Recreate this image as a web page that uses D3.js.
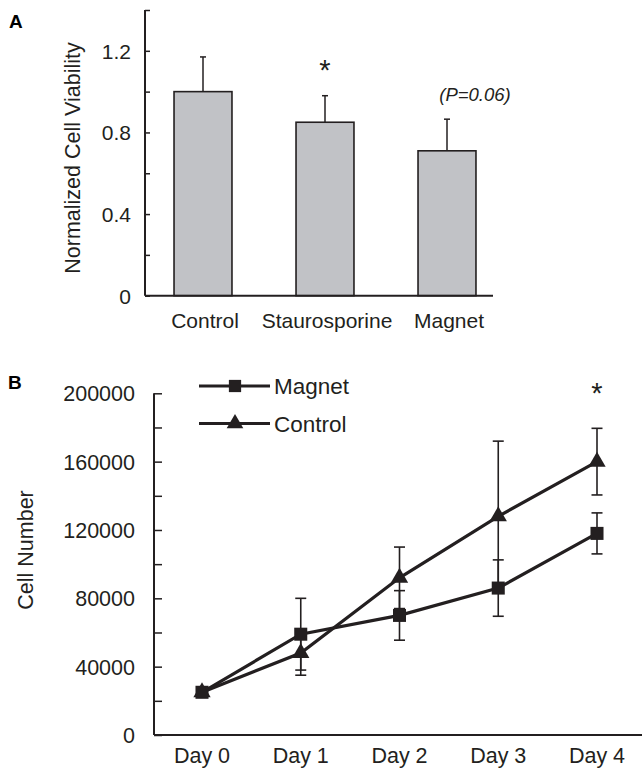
<!DOCTYPE html>
<html>
<head>
<meta charset="utf-8">
<script src="https://cdn.jsdelivr.net/npm/d3@7"></script>
<style>
  body { margin: 0; background: #fff; }
  svg { font-family: "Liberation Sans", Arial, sans-serif; }
</style>
</head>
<body>
<svg id="fig" width="642" height="768"></svg>
<script>
// panel A data
const groups = ['Control', 'Staurosporine', 'Magnet'];
const viability = [1.0, 0.85, 0.71];
const viabilityErr = [0.17, 0.13, 0.155];
const viabilityTicks = [0, 0.4, 0.8, 1.2];

// panel B data
const days = ['Day 0', 'Day 1', 'Day 2', 'Day 3', 'Day 4'];
const magnetCells = [25000, 59000, 70000, 86000, 118000];
const magnetErr = [0, 21000, 14500, 16500, 12000];
const controlCells = [25000, 48000, 92000, 128000, 160000];
const controlErr = [0, 13000, 18000, 44000, 19500];
const cellTicks = [0, 40000, 80000, 120000, 160000, 200000];

const ink = '#231f20';
const svg = d3.select('#fig');

// ---------- A ----------
const yA = d3.scaleLinear().domain([0, 1.4]).range([295.7, 10]);
const xA = d3.scaleBand().domain(groups).range([142, 508]).paddingInner(0.525).paddingOuter(0.2625);

const gA = svg.append('g');

gA.append('g')
    .attr('transform', 'translate(145,0)')
    .call(d3.axisRight(yA).tickValues(d3.range(0, 1.41, 0.2)).tickSize(5).tickFormat(''))
    .call(g => g.select('.domain').remove())
    .call(g => g.selectAll('line').attr('stroke', ink).attr('stroke-width', 1.5));

gA.append('line')
    .attr('x1', 145).attr('x2', 145)
    .attr('y1', yA(1.4)).attr('y2', yA(0))
    .attr('stroke', ink).attr('stroke-width', 2);

gA.selectAll('.ylab')
    .data(viabilityTicks)
    .enter().append('text')
    .attr('x', 131)
    .attr('y', d => yA(d) + 8)
    .attr('text-anchor', 'end')
    .attr('font-size', 21)
    .attr('fill', ink)
    .text(d => d === 0 ? '0' : d.toFixed(1));

const barsA = gA.selectAll('.bar')
    .data(groups)
    .enter().append('g');

barsA.append('line')
    .attr('x1', d => xA(d) + xA.bandwidth() / 2)
    .attr('x2', d => xA(d) + xA.bandwidth() / 2)
    .attr('y1', (d, i) => yA(viability[i]))
    .attr('y2', (d, i) => yA(viability[i] + viabilityErr[i]))
    .attr('stroke', ink).attr('stroke-width', 1.5);

barsA.append('line')
    .attr('x1', d => xA(d) + xA.bandwidth() / 2 - 3)
    .attr('x2', d => xA(d) + xA.bandwidth() / 2 + 3)
    .attr('y1', (d, i) => yA(viability[i] + viabilityErr[i]))
    .attr('y2', (d, i) => yA(viability[i] + viabilityErr[i]))
    .attr('stroke', ink).attr('stroke-width', 1.5);

barsA.append('rect')
    .attr('x', d => xA(d))
    .attr('y', (d, i) => yA(viability[i]))
    .attr('width', xA.bandwidth())
    .attr('height', (d, i) => yA(0) - yA(viability[i]))
    .attr('fill', '#c1c2c6')
    .attr('stroke', ink)
    .attr('stroke-width', 1.6);

gA.append('line')
    .attr('x1', 145).attr('x2', 493)
    .attr('y1', yA(0)).attr('y2', yA(0))
    .attr('stroke', ink).attr('stroke-width', 2);

barsA.append('text')
    .attr('x', d => xA(d) + xA.bandwidth() / 2 + 2)
    .attr('y', 328)
    .attr('text-anchor', 'middle')
    .attr('font-size', 21)
    .attr('fill', ink)
    .text(d => d);

gA.append('text')
    .attr('x', xA('Staurosporine') + xA.bandwidth() / 2)
    .attr('y', 80)
    .attr('text-anchor', 'middle')
    .attr('font-size', 29)
    .attr('fill', ink)
    .text('*');

gA.append('text')
    .attr('x', 475)
    .attr('y', 101)
    .attr('text-anchor', 'middle')
    .attr('font-size', 18.5)
    .attr('font-style', 'italic')
    .attr('fill', ink)
    .text('(P=0.06)');

gA.append('text')
    .attr('transform', 'translate(80,158) rotate(-90)')
    .attr('text-anchor', 'middle')
    .attr('font-size', 21.5)
    .attr('fill', ink)
    .text('Normalized Cell Viability');

svg.append('text')
    .attr('x', 9).attr('y', 28)
    .attr('font-size', 19).attr('font-weight', 'bold')
    .text('A');

// ---------- B ----------
const yB = d3.scaleLinear().domain([0, 200000]).range([735, 393.3]);
const xB = d3.scalePoint().domain(days).range([202, 597]);

const gB = svg.append('g');

gB.append('g')
    .attr('transform', 'translate(154,0)')
    .call(d3.axisRight(yB).tickValues(d3.range(0, 200001, 20000)).tickSize(8).tickFormat(''))
    .call(g => g.select('.domain').remove())
    .call(g => g.selectAll('line').attr('stroke', ink).attr('stroke-width', 1.5));

gB.append('line')
    .attr('x1', 154).attr('x2', 154)
    .attr('y1', yB(200000)).attr('y2', yB(0))
    .attr('stroke', ink).attr('stroke-width', 2);

gB.append('line')
    .attr('x1', 154).attr('x2', 642)
    .attr('y1', yB(0)).attr('y2', yB(0))
    .attr('stroke', ink).attr('stroke-width', 2);

gB.selectAll('.ylab')
    .data(cellTicks)
    .enter().append('text')
    .attr('x', 135)
    .attr('y', d => yB(d) + 8)
    .attr('text-anchor', 'end')
    .attr('font-size', 21.5)
    .attr('fill', ink)
    .text(d => d);

gB.selectAll('.xlab')
    .data(days)
    .enter().append('text')
    .attr('x', d => xB(d))
    .attr('y', 763)
    .attr('text-anchor', 'middle')
    .attr('font-size', 21.5)
    .attr('fill', ink)
    .text(d => d);

gB.append('text')
    .attr('transform', 'translate(33,550) rotate(-90)')
    .attr('text-anchor', 'middle')
    .attr('font-size', 21.5)
    .attr('fill', ink)
    .text('Cell Number');

svg.append('text')
    .attr('x', 8).attr('y', 389)
    .attr('font-size', 19).attr('font-weight', 'bold')
    .text('B');

const series = [
    { name: 'Magnet', values: magnetCells, err: magnetErr, shape: d3.symbolSquare },
    { name: 'Control', values: controlCells, err: controlErr, shape: d3.symbolTriangle }
];

const line = d3.line()
    .x((d, i) => xB(days[i]))
    .y(d => yB(d));

// error bars
series.forEach(s => {
    const eb = gB.append('g');
    days.forEach((day, i) => {
        if (!s.err[i]) return;
        const x = xB(day);
        const lo = yB(s.values[i] - s.err[i]);
        const hi = yB(s.values[i] + s.err[i]);
        eb.append('line').attr('x1', x).attr('x2', x).attr('y1', lo).attr('y2', hi);
        eb.append('line').attr('x1', x - 5.5).attr('x2', x + 5.5).attr('y1', lo).attr('y2', lo);
        eb.append('line').attr('x1', x - 5.5).attr('x2', x + 5.5).attr('y1', hi).attr('y2', hi);
    });
    eb.selectAll('line').attr('stroke', ink).attr('stroke-width', 1.6);
});

series.forEach(s => {
    gB.append('path')
        .datum(s.values)
        .attr('d', line)
        .attr('fill', 'none')
        .attr('stroke', ink)
        .attr('stroke-width', 3.2);
});

series.forEach(s => {
    gB.selectAll('.m-' + s.name)
        .data(s.values)
        .enter().append('path')
        .attr('transform', (d, i) => `translate(${xB(days[i])},${yB(d)})`)
        .attr('d', d3.symbol().type(s.shape).size(s.shape === d3.symbolSquare ? 170 : 130))
        .attr('fill', ink);
});

gB.append('text')
    .attr('x', xB('Day 4'))
    .attr('y', 403)
    .attr('text-anchor', 'middle')
    .attr('font-size', 29)
    .attr('fill', ink)
    .text('*');

// legend
const legend = gB.selectAll('.legend')
    .data(series)
    .enter().append('g')
    .attr('transform', (d, i) => `translate(0,${386 + i * 37.5})`);

legend.append('line')
    .attr('x1', 199).attr('x2', 270)
    .attr('stroke', ink).attr('stroke-width', 3.2);

legend.append('path')
    .attr('transform', 'translate(235,0)')
    .attr('d', d => d3.symbol().type(d.shape).size(d.shape === d3.symbolSquare ? 150 : 120)())
    .attr('fill', ink);

legend.append('text')
    .attr('x', 274)
    .attr('y', 8)
    .attr('font-size', 22.5)
    .attr('fill', ink)
    .text(d => d.name);
</script>
</body>
</html>
